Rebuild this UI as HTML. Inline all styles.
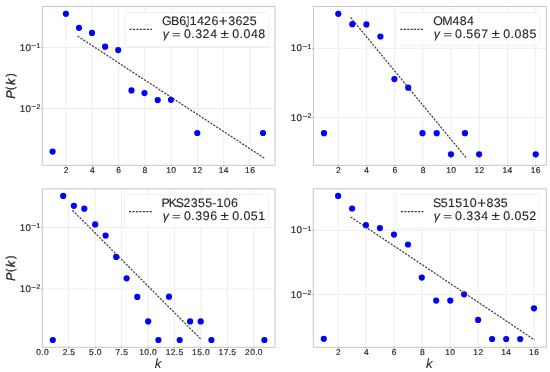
<!DOCTYPE html>
<html><head><meta charset="utf-8"><style>
html,body{margin:0;padding:0;background:#fff;}
svg{display:block;filter:blur(0.3px);}
text{font-family:"Liberation Sans", sans-serif;fill:#262626;text-rendering:geometricPrecision;}
.tk{stroke:#262626;stroke-width:0.18px;}
.al{stroke:#262626;stroke-width:0.35px;}
.lg{stroke:#262626;stroke-width:0.12px;}
</style></head><body>
<svg width="550" height="372" viewBox="0 0 550 372">
<rect width="550" height="372" fill="#fff"/>
<line x1="65.9" y1="6.45" x2="65.9" y2="165.35" stroke="#ebebeb" stroke-width="0.9"/>
<line x1="92.2" y1="6.45" x2="92.2" y2="165.35" stroke="#ebebeb" stroke-width="0.9"/>
<line x1="118.5" y1="6.45" x2="118.5" y2="165.35" stroke="#ebebeb" stroke-width="0.9"/>
<line x1="144.8" y1="6.45" x2="144.8" y2="165.35" stroke="#ebebeb" stroke-width="0.9"/>
<line x1="171.1" y1="6.45" x2="171.1" y2="165.35" stroke="#ebebeb" stroke-width="0.9"/>
<line x1="197.4" y1="6.45" x2="197.4" y2="165.35" stroke="#ebebeb" stroke-width="0.9"/>
<line x1="223.7" y1="6.45" x2="223.7" y2="165.35" stroke="#ebebeb" stroke-width="0.9"/>
<line x1="250" y1="6.45" x2="250" y2="165.35" stroke="#ebebeb" stroke-width="0.9"/>
<line x1="42.3" y1="47.5" x2="275" y2="47.5" stroke="#ebebeb" stroke-width="0.9"/>
<line x1="42.3" y1="108.5" x2="275" y2="108.5" stroke="#ebebeb" stroke-width="0.9"/>
<circle cx="52.6" cy="151.6" r="3.1" fill="#0000ff"/>
<circle cx="65.9" cy="13.8" r="3.1" fill="#0000ff"/>
<circle cx="79" cy="27.8" r="3.1" fill="#0000ff"/>
<circle cx="92" cy="32.9" r="3.1" fill="#0000ff"/>
<circle cx="105.1" cy="46.7" r="3.1" fill="#0000ff"/>
<circle cx="118.2" cy="50.1" r="3.1" fill="#0000ff"/>
<circle cx="131.5" cy="90.4" r="3.1" fill="#0000ff"/>
<circle cx="144.5" cy="93.1" r="3.1" fill="#0000ff"/>
<circle cx="157.7" cy="100.1" r="3.1" fill="#0000ff"/>
<circle cx="171" cy="99.8" r="3.1" fill="#0000ff"/>
<circle cx="197.3" cy="133" r="3.1" fill="#0000ff"/>
<circle cx="263" cy="133" r="3.1" fill="#0000ff"/>
<line x1="77.6" y1="36.1" x2="264.3" y2="158.1" stroke="#3c3c3c" stroke-width="1.2" stroke-dasharray="2.2 1.25"/>
<rect x="124.4" y="12.5" width="144.4" height="33.6" rx="2" ry="2" fill="#fff" fill-opacity="0.85" stroke="#eeeeee" stroke-width="0.8"/>
<line x1="129.5" y1="29.4" x2="152" y2="29.4" stroke="#3c3c3c" stroke-width="1.2" stroke-dasharray="2.2 1.25"/>
<text x="162.05 170.98 179.19" y="24.9" font-size="12.4" class="lg">GB6</text>
<text font-size="12.4" transform="translate(185.47 27.09) scale(0.572 1.257)" class="lg">J</text>
<text x="189.68 196.99 204.05 211.42" y="24.9" font-size="12.4" class="lg">1426</text>
<text font-size="12.4" transform="translate(218.86 26.22) scale(1.216 1.209)" class="lg">+</text>
<text x="228.17 235.38 242.44 249.77" y="24.9" font-size="12.4" class="lg">3625</text>
<text x="162.75" y="38.1" font-size="12.4" font-style="italic" class="lg">γ </text>
<text font-size="12.4" transform="translate(172.1 37.81) scale(1.216 0.827)" class="lg">= </text>
<text x="184.02 191.37 195.26 202.58 210.22" y="38.1" font-size="12.4" class="lg">0.324 </text>
<text font-size="12.4" transform="translate(220.5 38.1) scale(1.216 0.994)" class="lg">± </text>
<text x="232.16 239.51 243.39 250.88 258.37" y="38.1" font-size="12.4" class="lg">0.048</text>
<rect x="42.3" y="6.45" width="232.7" height="158.9" fill="none" stroke="#cccccc" stroke-width="1.1"/>
<line x1="65.9" y1="164.95" x2="65.9" y2="166.75" stroke="#a8a8a8" stroke-width="0.8"/>
<line x1="92.2" y1="164.95" x2="92.2" y2="166.75" stroke="#a8a8a8" stroke-width="0.8"/>
<line x1="118.5" y1="164.95" x2="118.5" y2="166.75" stroke="#a8a8a8" stroke-width="0.8"/>
<line x1="144.8" y1="164.95" x2="144.8" y2="166.75" stroke="#a8a8a8" stroke-width="0.8"/>
<line x1="171.1" y1="164.95" x2="171.1" y2="166.75" stroke="#a8a8a8" stroke-width="0.8"/>
<line x1="197.4" y1="164.95" x2="197.4" y2="166.75" stroke="#a8a8a8" stroke-width="0.8"/>
<line x1="223.7" y1="164.95" x2="223.7" y2="166.75" stroke="#a8a8a8" stroke-width="0.8"/>
<line x1="250" y1="164.95" x2="250" y2="166.75" stroke="#a8a8a8" stroke-width="0.8"/>
<line x1="40.9" y1="47.5" x2="42.7" y2="47.5" stroke="#a8a8a8" stroke-width="0.8"/>
<line x1="40.9" y1="108.5" x2="42.7" y2="108.5" stroke="#a8a8a8" stroke-width="0.8"/>
<text x="63.69" y="172.95" font-size="8.48" class="tk">2</text>
<text x="90.02" y="172.95" font-size="8.48" class="tk">4</text>
<text x="116.26" y="172.95" font-size="8.48" class="tk">6</text>
<text x="142.59" y="172.95" font-size="8.48" class="tk">8</text>
<text x="166.13 171.26" y="172.95" font-size="8.48" class="tk">10</text>
<text x="192.56 197.59" y="172.95" font-size="8.48" class="tk">12</text>
<text x="218.69 223.82" y="172.95" font-size="8.48" class="tk">14</text>
<text x="245.01 250.15" y="172.95" font-size="8.48" class="tk">16</text>
<text x="19.64 25.42" y="50.6" font-size="9.75" class="tk">10</text>
<text font-size="6.82" transform="translate(31.29 48.46) scale(1.216 1.099)" class="tk">−</text>
<text x="36.41" y="47.98" font-size="6.82" class="tk">1</text>
<text x="19.68 25.47" y="111.6" font-size="9.75" class="tk">10</text>
<text font-size="6.82" transform="translate(31.34 109.46) scale(1.216 1.099)" class="tk">−</text>
<text x="36.41" y="108.98" font-size="6.82" class="tk">2</text>
<line x1="338.3" y1="6.5" x2="338.3" y2="165.35" stroke="#ebebeb" stroke-width="0.9"/>
<line x1="366.5" y1="6.5" x2="366.5" y2="165.35" stroke="#ebebeb" stroke-width="0.9"/>
<line x1="394.7" y1="6.5" x2="394.7" y2="165.35" stroke="#ebebeb" stroke-width="0.9"/>
<line x1="422.9" y1="6.5" x2="422.9" y2="165.35" stroke="#ebebeb" stroke-width="0.9"/>
<line x1="451.1" y1="6.5" x2="451.1" y2="165.35" stroke="#ebebeb" stroke-width="0.9"/>
<line x1="479.3" y1="6.5" x2="479.3" y2="165.35" stroke="#ebebeb" stroke-width="0.9"/>
<line x1="507.5" y1="6.5" x2="507.5" y2="165.35" stroke="#ebebeb" stroke-width="0.9"/>
<line x1="535.7" y1="6.5" x2="535.7" y2="165.35" stroke="#ebebeb" stroke-width="0.9"/>
<line x1="313.45" y1="48.3" x2="546.3" y2="48.3" stroke="#ebebeb" stroke-width="0.9"/>
<line x1="313.45" y1="117.6" x2="546.3" y2="117.6" stroke="#ebebeb" stroke-width="0.9"/>
<circle cx="324" cy="133.2" r="3.1" fill="#0000ff"/>
<circle cx="338.3" cy="13.8" r="3.1" fill="#0000ff"/>
<circle cx="352.3" cy="24.2" r="3.1" fill="#0000ff"/>
<circle cx="366.4" cy="24.4" r="3.1" fill="#0000ff"/>
<circle cx="380.4" cy="36.5" r="3.1" fill="#0000ff"/>
<circle cx="394.4" cy="79.1" r="3.1" fill="#0000ff"/>
<circle cx="408.2" cy="87.7" r="3.1" fill="#0000ff"/>
<circle cx="422.5" cy="133.2" r="3.1" fill="#0000ff"/>
<circle cx="436.7" cy="133.2" r="3.1" fill="#0000ff"/>
<circle cx="451" cy="154.3" r="3.1" fill="#0000ff"/>
<circle cx="465" cy="133.2" r="3.1" fill="#0000ff"/>
<circle cx="479.1" cy="154.3" r="3.1" fill="#0000ff"/>
<circle cx="535.7" cy="154.3" r="3.1" fill="#0000ff"/>
<line x1="350.6" y1="17.4" x2="466.2" y2="157.9" stroke="#3c3c3c" stroke-width="1.2" stroke-dasharray="2.2 1.25"/>
<rect x="396.3" y="12.5" width="143.2" height="32.7" rx="2" ry="2" fill="#fff" fill-opacity="0.85" stroke="#eeeeee" stroke-width="0.8"/>
<line x1="400.2" y1="29.4" x2="423" y2="29.4" stroke="#3c3c3c" stroke-width="1.2" stroke-dasharray="2.2 1.25"/>
<text x="433.23 442.25 452.44 459.66 466.89" y="24.8" font-size="12.4" class="lg">OM484</text>
<text x="433.85" y="38" font-size="12.4" font-style="italic" class="lg">γ </text>
<text font-size="12.4" transform="translate(443.2 37.71) scale(1.216 0.827)" class="lg">= </text>
<text x="455.12 462.47 466.3 473.84 481.3" y="38" font-size="12.4" class="lg">0.567 </text>
<text font-size="12.4" transform="translate(491.6 38) scale(1.216 0.994)" class="lg">± </text>
<text x="503.26 510.61 514.49 521.98 529.42" y="38" font-size="12.4" class="lg">0.085</text>
<rect x="313.45" y="6.5" width="232.85" height="158.85" fill="none" stroke="#cccccc" stroke-width="1.1"/>
<line x1="338.3" y1="164.95" x2="338.3" y2="166.75" stroke="#a8a8a8" stroke-width="0.8"/>
<line x1="366.5" y1="164.95" x2="366.5" y2="166.75" stroke="#a8a8a8" stroke-width="0.8"/>
<line x1="394.7" y1="164.95" x2="394.7" y2="166.75" stroke="#a8a8a8" stroke-width="0.8"/>
<line x1="422.9" y1="164.95" x2="422.9" y2="166.75" stroke="#a8a8a8" stroke-width="0.8"/>
<line x1="451.1" y1="164.95" x2="451.1" y2="166.75" stroke="#a8a8a8" stroke-width="0.8"/>
<line x1="479.3" y1="164.95" x2="479.3" y2="166.75" stroke="#a8a8a8" stroke-width="0.8"/>
<line x1="507.5" y1="164.95" x2="507.5" y2="166.75" stroke="#a8a8a8" stroke-width="0.8"/>
<line x1="535.7" y1="164.95" x2="535.7" y2="166.75" stroke="#a8a8a8" stroke-width="0.8"/>
<line x1="312.05" y1="48.3" x2="313.85" y2="48.3" stroke="#a8a8a8" stroke-width="0.8"/>
<line x1="312.05" y1="117.6" x2="313.85" y2="117.6" stroke="#a8a8a8" stroke-width="0.8"/>
<text x="336.09" y="172.95" font-size="8.48" class="tk">2</text>
<text x="364.32" y="172.95" font-size="8.48" class="tk">4</text>
<text x="392.46" y="172.95" font-size="8.48" class="tk">6</text>
<text x="420.69" y="172.95" font-size="8.48" class="tk">8</text>
<text x="446.13 451.26" y="172.95" font-size="8.48" class="tk">10</text>
<text x="474.46 479.49" y="172.95" font-size="8.48" class="tk">12</text>
<text x="502.49 507.62" y="172.95" font-size="8.48" class="tk">14</text>
<text x="530.71 535.85" y="172.95" font-size="8.48" class="tk">16</text>
<text x="290.79 296.57" y="51.4" font-size="9.75" class="tk">10</text>
<text font-size="6.82" transform="translate(302.44 49.26) scale(1.216 1.099)" class="tk">−</text>
<text x="307.56" y="48.78" font-size="6.82" class="tk">1</text>
<text x="290.83 296.62" y="120.7" font-size="9.75" class="tk">10</text>
<text font-size="6.82" transform="translate(302.49 118.56) scale(1.216 1.099)" class="tk">−</text>
<text x="307.56" y="118.08" font-size="6.82" class="tk">2</text>
<line x1="68.7" y1="188.9" x2="68.7" y2="347.35" stroke="#ebebeb" stroke-width="0.9"/>
<line x1="95.2" y1="188.9" x2="95.2" y2="347.35" stroke="#ebebeb" stroke-width="0.9"/>
<line x1="121.6" y1="188.9" x2="121.6" y2="347.35" stroke="#ebebeb" stroke-width="0.9"/>
<line x1="148" y1="188.9" x2="148" y2="347.35" stroke="#ebebeb" stroke-width="0.9"/>
<line x1="174.4" y1="188.9" x2="174.4" y2="347.35" stroke="#ebebeb" stroke-width="0.9"/>
<line x1="200.9" y1="188.9" x2="200.9" y2="347.35" stroke="#ebebeb" stroke-width="0.9"/>
<line x1="227.3" y1="188.9" x2="227.3" y2="347.35" stroke="#ebebeb" stroke-width="0.9"/>
<line x1="253.7" y1="188.9" x2="253.7" y2="347.35" stroke="#ebebeb" stroke-width="0.9"/>
<line x1="42.3" y1="227.5" x2="275" y2="227.5" stroke="#ebebeb" stroke-width="0.9"/>
<line x1="42.3" y1="288.9" x2="275" y2="288.9" stroke="#ebebeb" stroke-width="0.9"/>
<circle cx="52.8" cy="340" r="3.1" fill="#0000ff"/>
<circle cx="63.2" cy="195.9" r="3.1" fill="#0000ff"/>
<circle cx="73.9" cy="205.8" r="3.1" fill="#0000ff"/>
<circle cx="84.3" cy="208.7" r="3.1" fill="#0000ff"/>
<circle cx="95.2" cy="224.4" r="3.1" fill="#0000ff"/>
<circle cx="105.6" cy="235.6" r="3.1" fill="#0000ff"/>
<circle cx="116.2" cy="256.9" r="3.1" fill="#0000ff"/>
<circle cx="126.6" cy="278.3" r="3.1" fill="#0000ff"/>
<circle cx="137.3" cy="296.9" r="3.1" fill="#0000ff"/>
<circle cx="148.2" cy="321.4" r="3.1" fill="#0000ff"/>
<circle cx="158.4" cy="340" r="3.1" fill="#0000ff"/>
<circle cx="169" cy="296.7" r="3.1" fill="#0000ff"/>
<circle cx="179.7" cy="340" r="3.1" fill="#0000ff"/>
<circle cx="190.1" cy="321.4" r="3.1" fill="#0000ff"/>
<circle cx="200.7" cy="321.4" r="3.1" fill="#0000ff"/>
<circle cx="211.4" cy="340" r="3.1" fill="#0000ff"/>
<circle cx="264.4" cy="340" r="3.1" fill="#0000ff"/>
<line x1="72.4" y1="210.2" x2="201" y2="339.3" stroke="#3c3c3c" stroke-width="1.2" stroke-dasharray="2.2 1.25"/>
<rect x="124.4" y="194.7" width="143.9" height="33.1" rx="2" ry="2" fill="#fff" fill-opacity="0.85" stroke="#eeeeee" stroke-width="0.8"/>
<line x1="129" y1="211.7" x2="152" y2="211.7" stroke="#3c3c3c" stroke-width="1.2" stroke-dasharray="2.2 1.25"/>
<text x="161.44 168.66 175.79 183.47 190.86 198.02 205.24 212.29 216.53 223.83 231.05" y="207.1" font-size="12.4" class="lg">PKS2355-106</text>
<text x="162.75" y="220.3" font-size="12.4" font-style="italic" class="lg">γ </text>
<text font-size="12.4" transform="translate(172.1 220.01) scale(1.216 0.827)" class="lg">= </text>
<text x="184.02 191.37 195.26 202.7 210.22" y="220.3" font-size="12.4" class="lg">0.396 </text>
<text font-size="12.4" transform="translate(220.5 220.3) scale(1.216 0.994)" class="lg">± </text>
<text x="232.16 239.51 243.39 250.83 258.31" y="220.3" font-size="12.4" class="lg">0.051</text>
<rect x="42.3" y="188.9" width="232.7" height="158.45" fill="none" stroke="#cccccc" stroke-width="1.1"/>
<line x1="68.7" y1="346.95" x2="68.7" y2="348.75" stroke="#a8a8a8" stroke-width="0.8"/>
<line x1="95.2" y1="346.95" x2="95.2" y2="348.75" stroke="#a8a8a8" stroke-width="0.8"/>
<line x1="121.6" y1="346.95" x2="121.6" y2="348.75" stroke="#a8a8a8" stroke-width="0.8"/>
<line x1="148" y1="346.95" x2="148" y2="348.75" stroke="#a8a8a8" stroke-width="0.8"/>
<line x1="174.4" y1="346.95" x2="174.4" y2="348.75" stroke="#a8a8a8" stroke-width="0.8"/>
<line x1="200.9" y1="346.95" x2="200.9" y2="348.75" stroke="#a8a8a8" stroke-width="0.8"/>
<line x1="227.3" y1="346.95" x2="227.3" y2="348.75" stroke="#a8a8a8" stroke-width="0.8"/>
<line x1="253.7" y1="346.95" x2="253.7" y2="348.75" stroke="#a8a8a8" stroke-width="0.8"/>
<line x1="40.9" y1="227.5" x2="42.7" y2="227.5" stroke="#a8a8a8" stroke-width="0.8"/>
<line x1="40.9" y1="288.9" x2="42.7" y2="288.9" stroke="#a8a8a8" stroke-width="0.8"/>
<text x="36.28 41.27 43.91" y="354.95" font-size="8.48" class="tk">0.0</text>
<text x="62.63 67.73 70.33" y="354.95" font-size="8.48" class="tk">2.5</text>
<text x="89.1 94.13 96.76" y="354.95" font-size="8.48" class="tk">5.0</text>
<text x="115.58 120.59 123.2" y="354.95" font-size="8.48" class="tk">7.5</text>
<text x="139.21 144.35 149.34 151.98" y="354.95" font-size="8.48" class="tk">10.0</text>
<text x="165.7 170.72 175.82 178.43" y="354.95" font-size="8.48" class="tk">12.5</text>
<text x="192.11 197.21 202.24 204.88" y="354.95" font-size="8.48" class="tk">15.0</text>
<text x="218.6 223.71 228.72 231.33" y="354.95" font-size="8.48" class="tk">17.5</text>
<text x="245 250.19 255.19 257.82" y="354.95" font-size="8.48" class="tk">20.0</text>
<text x="19.64 25.42" y="230.6" font-size="9.75" class="tk">10</text>
<text font-size="6.82" transform="translate(31.29 228.46) scale(1.216 1.099)" class="tk">−</text>
<text x="36.41" y="227.98" font-size="6.82" class="tk">1</text>
<text x="19.68 25.47" y="292" font-size="9.75" class="tk">10</text>
<text font-size="6.82" transform="translate(31.34 289.86) scale(1.216 1.099)" class="tk">−</text>
<text x="36.41" y="289.38" font-size="6.82" class="tk">2</text>
<line x1="338.1" y1="188.8" x2="338.1" y2="347.35" stroke="#ebebeb" stroke-width="0.9"/>
<line x1="366.1" y1="188.8" x2="366.1" y2="347.35" stroke="#ebebeb" stroke-width="0.9"/>
<line x1="394.1" y1="188.8" x2="394.1" y2="347.35" stroke="#ebebeb" stroke-width="0.9"/>
<line x1="422.1" y1="188.8" x2="422.1" y2="347.35" stroke="#ebebeb" stroke-width="0.9"/>
<line x1="450.2" y1="188.8" x2="450.2" y2="347.35" stroke="#ebebeb" stroke-width="0.9"/>
<line x1="478.2" y1="188.8" x2="478.2" y2="347.35" stroke="#ebebeb" stroke-width="0.9"/>
<line x1="506.2" y1="188.8" x2="506.2" y2="347.35" stroke="#ebebeb" stroke-width="0.9"/>
<line x1="534.1" y1="188.8" x2="534.1" y2="347.35" stroke="#ebebeb" stroke-width="0.9"/>
<line x1="313.4" y1="230.3" x2="546.3" y2="230.3" stroke="#ebebeb" stroke-width="0.9"/>
<line x1="313.4" y1="294.6" x2="546.3" y2="294.6" stroke="#ebebeb" stroke-width="0.9"/>
<circle cx="323.8" cy="338.8" r="3.1" fill="#0000ff"/>
<circle cx="338.1" cy="195.9" r="3.1" fill="#0000ff"/>
<circle cx="352.1" cy="208.5" r="3.1" fill="#0000ff"/>
<circle cx="365.9" cy="225.2" r="3.1" fill="#0000ff"/>
<circle cx="379.9" cy="228.1" r="3.1" fill="#0000ff"/>
<circle cx="394" cy="234.6" r="3.1" fill="#0000ff"/>
<circle cx="408" cy="244.5" r="3.1" fill="#0000ff"/>
<circle cx="421.8" cy="277.6" r="3.1" fill="#0000ff"/>
<circle cx="436.2" cy="300.6" r="3.1" fill="#0000ff"/>
<circle cx="450.3" cy="300.6" r="3.1" fill="#0000ff"/>
<circle cx="464.1" cy="294.3" r="3.1" fill="#0000ff"/>
<circle cx="478.1" cy="319.9" r="3.1" fill="#0000ff"/>
<circle cx="492.1" cy="339" r="3.1" fill="#0000ff"/>
<circle cx="506.2" cy="339" r="3.1" fill="#0000ff"/>
<circle cx="520.2" cy="339" r="3.1" fill="#0000ff"/>
<circle cx="534" cy="308.3" r="3.1" fill="#0000ff"/>
<line x1="350.6" y1="216.9" x2="534.7" y2="340" stroke="#3c3c3c" stroke-width="1.2" stroke-dasharray="2.2 1.25"/>
<rect x="396.2" y="194.5" width="143.5" height="33.8" rx="2" ry="2" fill="#fff" fill-opacity="0.85" stroke="#eeeeee" stroke-width="0.8"/>
<line x1="400.8" y1="211.7" x2="423.5" y2="211.7" stroke="#3c3c3c" stroke-width="1.2" stroke-dasharray="2.2 1.25"/>
<text x="432.97 440.76 447.95 455.2 462.39 469.69" y="207.1" font-size="12.4" class="lg">S51510</text>
<text font-size="12.4" transform="translate(477.13 208.42) scale(1.216 1.209)" class="lg">+</text>
<text x="486.42 493.66 500.81" y="207.1" font-size="12.4" class="lg">835</text>
<text x="433.85" y="220.3" font-size="12.4" font-style="italic" class="lg">γ </text>
<text font-size="12.4" transform="translate(443.2 220.01) scale(1.216 0.827)" class="lg">= </text>
<text x="455.12 462.47 466.36 473.85 481.32" y="220.3" font-size="12.4" class="lg">0.334 </text>
<text font-size="12.4" transform="translate(491.6 220.3) scale(1.216 0.994)" class="lg">± </text>
<text x="503.26 510.61 514.49 521.93 529.31" y="220.3" font-size="12.4" class="lg">0.052</text>
<rect x="313.4" y="188.8" width="232.9" height="158.55" fill="none" stroke="#cccccc" stroke-width="1.1"/>
<line x1="338.1" y1="346.95" x2="338.1" y2="348.75" stroke="#a8a8a8" stroke-width="0.8"/>
<line x1="366.1" y1="346.95" x2="366.1" y2="348.75" stroke="#a8a8a8" stroke-width="0.8"/>
<line x1="394.1" y1="346.95" x2="394.1" y2="348.75" stroke="#a8a8a8" stroke-width="0.8"/>
<line x1="422.1" y1="346.95" x2="422.1" y2="348.75" stroke="#a8a8a8" stroke-width="0.8"/>
<line x1="450.2" y1="346.95" x2="450.2" y2="348.75" stroke="#a8a8a8" stroke-width="0.8"/>
<line x1="478.2" y1="346.95" x2="478.2" y2="348.75" stroke="#a8a8a8" stroke-width="0.8"/>
<line x1="506.2" y1="346.95" x2="506.2" y2="348.75" stroke="#a8a8a8" stroke-width="0.8"/>
<line x1="534.1" y1="346.95" x2="534.1" y2="348.75" stroke="#a8a8a8" stroke-width="0.8"/>
<line x1="312" y1="230.3" x2="313.8" y2="230.3" stroke="#a8a8a8" stroke-width="0.8"/>
<line x1="312" y1="294.6" x2="313.8" y2="294.6" stroke="#a8a8a8" stroke-width="0.8"/>
<text x="335.89" y="354.95" font-size="8.48" class="tk">2</text>
<text x="363.92" y="354.95" font-size="8.48" class="tk">4</text>
<text x="391.86" y="354.95" font-size="8.48" class="tk">6</text>
<text x="419.89" y="354.95" font-size="8.48" class="tk">8</text>
<text x="445.23 450.36" y="354.95" font-size="8.48" class="tk">10</text>
<text x="473.36 478.39" y="354.95" font-size="8.48" class="tk">12</text>
<text x="501.19 506.32" y="354.95" font-size="8.48" class="tk">14</text>
<text x="529.11 534.25" y="354.95" font-size="8.48" class="tk">16</text>
<text x="290.74 296.52" y="233.4" font-size="9.75" class="tk">10</text>
<text font-size="6.82" transform="translate(302.39 231.26) scale(1.216 1.099)" class="tk">−</text>
<text x="307.51" y="230.78" font-size="6.82" class="tk">1</text>
<text x="290.78 296.57" y="297.7" font-size="9.75" class="tk">10</text>
<text font-size="6.82" transform="translate(302.44 295.56) scale(1.216 1.099)" class="tk">−</text>
<text x="307.51" y="295.08" font-size="6.82" class="tk">2</text>
<text x="-0.93" y="0" font-size="12.5" font-style="italic" class="al" transform="translate(14.8 97.9) rotate(-90)">P</text>
<text font-size="12.5" transform="translate(14.8 97.9) rotate(-90) translate(7.99 -0.78) scale(0.798 0.902)" class="al">(</text>
<text x="12.93" y="0" font-size="12.5" font-style="italic" class="al" transform="translate(14.8 97.9) rotate(-90)">k</text>
<text font-size="12.5" transform="translate(14.8 97.9) rotate(-90) translate(21.07 -0.78) scale(0.798 0.902)" class="al">)</text>
<text x="-0.93" y="0" font-size="12.5" font-style="italic" class="al" transform="translate(14.8 280.1) rotate(-90)">P</text>
<text font-size="12.5" transform="translate(14.8 280.1) rotate(-90) translate(7.99 -0.78) scale(0.798 0.902)" class="al">(</text>
<text x="12.93" y="0" font-size="12.5" font-style="italic" class="al" transform="translate(14.8 280.1) rotate(-90)">k</text>
<text font-size="12.5" transform="translate(14.8 280.1) rotate(-90) translate(21.07 -0.78) scale(0.798 0.902)" class="al">)</text>
<text x="154.77" y="367.6" font-size="13.35" font-style="italic">k</text>
<text x="426.07" y="367.6" font-size="13.35" font-style="italic">k</text>
</svg>
</body></html>
